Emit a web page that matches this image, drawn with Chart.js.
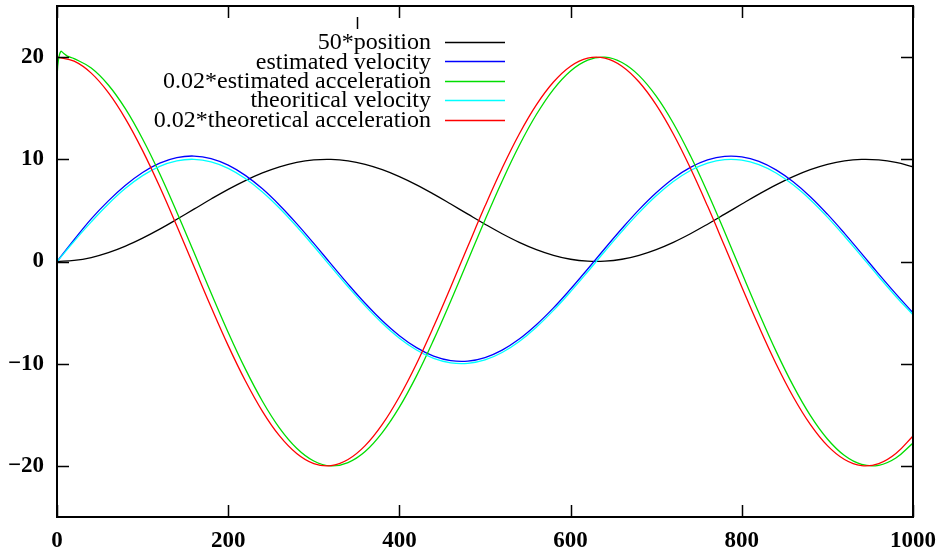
<!DOCTYPE html>
<html lang="en">
<head>
    <meta charset="UTF-8" />
    <title>Position, velocity and acceleration</title>
    <script src="https://cdn.jsdelivr.net/npm/chart.js"></script>
    <style>
        html, body { margin: 0; padding: 0; background: #fff; }
        canvas { display: block; }
    </style>
</head>
<body>
    <canvas id="motionChart" width="941" height="555"></canvas>

    <script>
        // tick labels
        const xTicks = [0, 200, 400, 600, 800, 1000];
        const yTicks = [-20, -10, 0, 10, 20];

        // sample positions (every 20 units) shared by most curves
        const xs = [0, 20, 40, 60, 80, 100, 120, 140, 160, 180, 200, 220, 240, 260, 280, 300, 320, 340, 360, 380,
            400, 420, 440, 460, 480, 500, 520, 540, 560, 580, 600, 620, 640, 660, 680, 700, 720, 740, 760, 780,
            800, 820, 840, 860, 880, 900, 920, 940, 960, 980, 1000];

        const position50 = [0, 0.10, 0.39, 0.87, 1.51, 2.29, 3.17, 4.13, 5.12, 6.11, 7.06, 7.92, 8.67, 9.27, 9.70, 9.94,
            9.99, 9.85, 9.51, 8.99, 8.31, 7.50, 6.59, 5.62, 4.63, 3.65, 2.72, 1.88, 1.17, 0.61, 0.22, 0.03, 0.03, 0.22,
            0.61, 1.17, 1.88, 2.72, 3.65, 4.63, 5.62, 6.59, 7.50, 8.31, 8.99, 9.51, 9.85, 9.99, 9.94, 9.70, 9.27];

        const estVelocity = [0, 2.13, 4.17, 5.93, 7.46, 8.71, 9.63, 10.17, 10.32, 10.07, 9.43, 8.43, 7.11, 5.51, 3.71,
            1.77, -0.23, -2.21, -4.09, -5.80, -7.26, -8.43, -9.26, -9.70, -9.75, -9.40, -8.67, -7.59, -6.19, -4.54,
            -2.69, -0.73, 1.27, 3.23, 5.08, 6.73, 8.13, 9.21, 9.94, 10.29, 10.24, 9.80, 8.97, 7.80, 6.34, 4.63, 2.75,
            0.77, -1.23, -3.17, -5.02];

        // estimated acceleration has a short start-up spike, so it keeps its own x list
        const estAccX = [0, 1.5, 4.5, 8, 12, 20, 40, 60, 80, 100, 120, 140, 160, 180, 200, 220, 240, 260, 280, 300,
            320, 340, 360, 380, 400, 420, 440, 460, 480, 500, 520, 540, 560, 580, 600, 620, 640, 660, 680, 700, 720,
            740, 760, 780, 800, 820, 840, 860, 880, 900, 920, 940, 960, 980, 1000];
        const estAcc002 = [18.0, 19.6, 20.55, 20.35, 20.1, 19.85, 18.93, 17.27, 14.93, 11.99, 8.59, 4.83, 0.90, -3.08,
            -6.94, -10.51, -13.67, -16.30, -18.27, -19.52, -20.00, -19.67, -18.59, -16.74, -14.25, -11.19, -7.67,
            -3.86, 0.10, 4.07, 7.86, 11.35, 14.38, 16.85, 18.65, 19.71, 19.99, 19.47, 18.19, 16.18, 13.53, 10.34, 6.75,
            2.88, -1.10, -5.03, -8.77, -12.15, -15.06, -17.37, -18.99, -19.86, -19.94, -19.23, -17.76];

        const theoVelocity = [0, 1.98, 3.88, 5.63, 7.16, 8.40, 9.31, 9.85, 10.00, 9.75, 9.12, 8.12, 6.80, 5.21, 3.42,
            1.49, -0.50, -2.47, -4.34, -6.04, -7.50, -8.66, -9.48, -9.92, -9.97, -9.63, -8.90, -7.82, -6.43, -4.78,
            -2.95, -1.00, 1.00, 2.95, 4.78, 6.43, 7.82, 8.90, 9.63, 9.97, 9.92, 9.48, 8.66, 7.50, 6.04, 4.34, 2.47,
            0.50, -1.49, -3.42, -5.21];

        const theoAcc002 = [20.0, 19.60, 18.43, 16.52, 13.96, 10.85, 7.31, 3.47, -0.50, -4.45, -8.23, -11.67, -14.66,
            -17.07, -18.79, -19.78, -19.98, -19.38, -18.02, -15.94, -13.23, -10.00, -6.37, -2.49, 1.49, 5.42, 9.12,
            12.47, 15.32, 17.56, 19.11, 19.90, 19.90, 19.11, 17.56, 15.32, 12.47, 9.12, 5.42, 1.49, -2.49, -6.37,
            -10.00, -13.23, -15.94, -18.02, -19.38, -19.98, -19.78, -18.79, -17.07];

        const seriesNames = ["50*position", "estimated velocity", "0.02*estimated acceleration",
            "theoritical velocity", "0.02*theoretical acceleration"];
        const seriesColors = ["#000000", "#0000ff", "#00dd00", "#00ffff", "#ff0000"];

        const toPoints = (xv, yv) => xv.map((x, i) => ({ x: x, y: yv[i] }));
        const seriesData = [
            toPoints(xs, position50),
            toPoints(xs, estVelocity),
            toPoints(estAccX, estAcc002),
            toPoints(xs, theoVelocity),
            toPoints(xs, theoAcc002)
        ];

        // gnuplot style frame: border plus inward ticks on all four sides
        const framePlugin = {
            id: "frame",
            afterDraw(chart) {
                const { ctx, chartArea: a, scales } = chart;
                const len = 12;
                ctx.save();
                ctx.strokeStyle = "#000";
                ctx.lineWidth = 1.5;
                ctx.beginPath();
                xTicks.forEach(v => {
                    const px = Math.round(scales.x.getPixelForValue(v)) + 0.5;
                    ctx.moveTo(px, a.bottom); ctx.lineTo(px, a.bottom - len);
                    ctx.moveTo(px, a.top); ctx.lineTo(px, a.top + len);
                });
                yTicks.forEach(v => {
                    const py = Math.round(scales.y.getPixelForValue(v)) + 0.5;
                    ctx.moveTo(a.left, py); ctx.lineTo(a.left + len, py);
                    ctx.moveTo(a.right, py); ctx.lineTo(a.right - len, py);
                });
                // small stray mark above the key
                const sx = Math.round(scales.x.getPixelForValue(351)) + 0.5;
                ctx.moveTo(sx, a.top + 11); ctx.lineTo(sx, a.top + 23);
                ctx.stroke();
                ctx.lineWidth = 2;
                ctx.strokeRect(a.left, a.top, a.right - a.left, a.bottom - a.top);
                ctx.restore();
            }
        };

        // key in the gnuplot way: right aligned text, line sample after it
        const keyPlugin = {
            id: "key",
            afterDraw(chart) {
                const { ctx } = chart;
                const textRight = 431, lineStart = 445, lineEnd = 505;
                const firstRow = 42, rowStep = 19.4;
                ctx.save();
                ctx.font = "24px 'Liberation Serif'";
                ctx.textAlign = "right";
                ctx.textBaseline = "middle";
                chart.data.datasets.forEach((ds, i) => {
                    const y = firstRow + i * rowStep;
                    ctx.fillStyle = "#000";
                    ctx.fillText(ds.label, textRight, y + 1);
                    ctx.strokeStyle = ds.borderColor;
                    ctx.lineWidth = 1.3;
                    ctx.beginPath();
                    ctx.moveTo(lineStart, Math.round(y) + 0.5);
                    ctx.lineTo(lineEnd, Math.round(y) + 0.5);
                    ctx.stroke();
                });
                ctx.restore();
            }
        };

        const tickFont = { family: "'Liberation Serif'", size: 23, weight: "bold" };

        new Chart(document.getElementById("motionChart"), {
            type: "scatter",
            data: {
                datasets: seriesData.map((pts, i) => ({
                    label: seriesNames[i],
                    data: pts,
                    showLine: true,
                    borderColor: seriesColors[i],
                    backgroundColor: seriesColors[i],
                    borderWidth: 1.3,
                    pointRadius: 0,
                    tension: 0.4,
                    order: seriesNames.length - i
                }))
            },
            options: {
                responsive: false,
                animation: false,
                devicePixelRatio: 1,
                layout: { padding: { top: 6, right: 28, left: 0, bottom: 0 } },
                plugins: {
                    legend: { display: false },
                    tooltip: { enabled: false }
                },
                scales: {
                    x: {
                        type: "linear",
                        min: 0,
                        max: 1000,
                        border: { display: false },
                        grid: { display: false, drawTicks: false },
                        afterBuildTicks: s => { s.ticks = xTicks.map(v => ({ value: v })); },
                        afterFit: s => { s.height = 38; s.paddingLeft = 0; s.paddingRight = 0; },
                        ticks: {
                            padding: 10,
                            color: "#000",
                            font: tickFont,
                            maxRotation: 0,
                            autoSkip: false,
                            callback: v => String(v)
                        }
                    },
                    y: {
                        type: "linear",
                        min: -25,
                        max: 25,
                        border: { display: false },
                        grid: { display: false, drawTicks: false },
                        afterBuildTicks: s => { s.ticks = yTicks.map(v => ({ value: v })); },
                        afterFit: s => { s.width = 57; s.paddingTop = 0; s.paddingBottom = 0; },
                        ticks: {
                            padding: 13,
                            color: "#000",
                            font: tickFont,
                            autoSkip: false,
                            callback: v => String(v).replace("-", "\u2212")
                        }
                    }
                }
            },
            plugins: [framePlugin, keyPlugin]
        });
    </script>
</body>
</html>
